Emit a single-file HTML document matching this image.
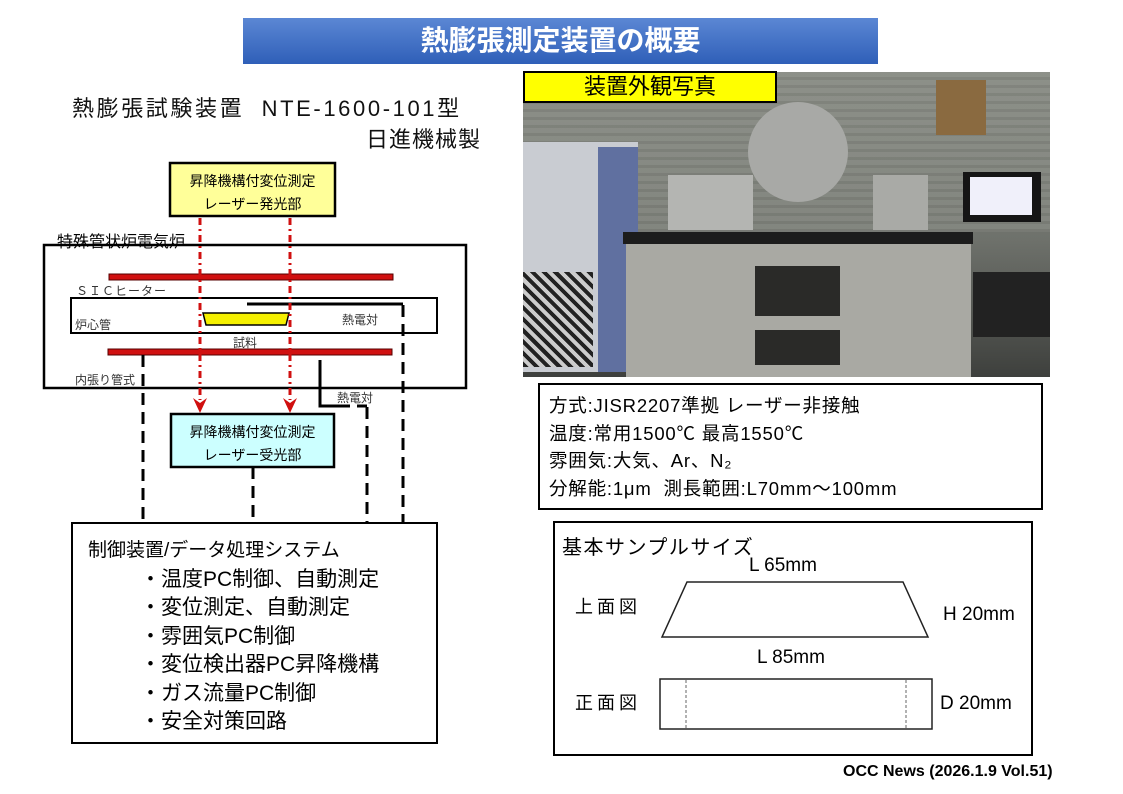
<!DOCTYPE html>
<html><head><meta charset="utf-8">
<style>
body{margin:0;width:1123px;height:794px;background:#fff;position:relative;overflow:hidden;font-family:"Liberation Sans","Noto Sans CJK JP",sans-serif;}
.a{position:absolute;white-space:nowrap;}
</style></head><body>
<div class="a" style="left:243px;top:18px;width:635px;height:46px;background:linear-gradient(#5b87d4,#2f5fb8);color:#fff;font-weight:bold;font-size:28px;line-height:46px;text-align:center;">熱膨張測定装置の概要</div>

<div class="a" style="left:72px;top:91px;font-size:22px;letter-spacing:2.6px;color:#111;">熱膨張試験装置&nbsp; NTE-1600-101型</div>
<div class="a" style="left:366px;top:122px;font-size:22px;letter-spacing:1px;color:#111;">日進機械製</div>

<svg class="a" style="left:0;top:0" width="520" height="794">
<rect x="44" y="245" width="422" height="143" fill="none" stroke="#000" stroke-width="2.5"/>
<rect x="109" y="274" width="284" height="6" fill="#d01010" stroke="#500" stroke-width="1"/>
<rect x="71" y="298" width="366" height="35" fill="none" stroke="#000" stroke-width="2"/>
<polyline points="247,304 403,304" stroke="#000" stroke-width="3" fill="none"/>
<polygon points="203,313 289,313 286,325 206,325" fill="#f5f000" stroke="#000" stroke-width="1.5"/>
<rect x="108" y="349" width="284" height="6" fill="#d01010" stroke="#500" stroke-width="1"/>
<polyline points="320,360 320,406 338,406" stroke="#000" stroke-width="3" fill="none"/>
<g stroke="#000" stroke-width="3" stroke-dasharray="12,7" fill="none">
<line x1="403" y1="305" x2="403" y2="523"/>
<line x1="143" y1="355" x2="143" y2="523"/>
<line x1="253" y1="467" x2="253" y2="523"/>
<line x1="367" y1="407" x2="367" y2="523"/>
<line x1="338" y1="406" x2="367" y2="406"/>
</g>
<g stroke="#d01010" stroke-width="3" stroke-dasharray="7,4,2,4" fill="none">
<line x1="200" y1="218" x2="200" y2="400"/>
<line x1="290" y1="218" x2="290" y2="400"/>
</g>
<path d="M193,398 L200,413 L207,398 L200,403 Z" fill="#d01010"/>
<path d="M283,398 L290,413 L297,398 L290,403 Z" fill="#d01010"/>
<rect x="170" y="163" width="165" height="53" fill="#ffff99" stroke="#000" stroke-width="2.5"/>
<rect x="171" y="414" width="163" height="53" fill="#ccffff" stroke="#000" stroke-width="2.5"/>
<rect x="72" y="523" width="365" height="220" fill="#fff" stroke="#000" stroke-width="2"/>
</svg>
<div class="a" style="left:170px;top:170px;width:165px;text-align:center;font-size:14px;line-height:23px;">昇降機構付変位測定<br>レーザー発光部</div>
<div class="a" style="left:171px;top:421px;width:163px;text-align:center;font-size:14px;line-height:23px;">昇降機構付変位測定<br>レーザー受光部</div>
<div class="a" style="left:57px;top:228px;font-size:16px;">特殊管状炉電気炉</div>
<div class="a" style="left:76px;top:282px;font-size:12px;color:#333;letter-spacing:1px;">ＳＩＣヒーター</div>
<div class="a" style="left:75px;top:316px;font-size:12px;color:#333;">炉心管</div>
<div class="a" style="left:342px;top:311px;font-size:12px;color:#333;">熱電対</div>
<div class="a" style="left:233px;top:334px;font-size:12px;color:#333;">試料</div>
<div class="a" style="left:75px;top:371px;font-size:12px;color:#333;">内張り管式</div>
<div class="a" style="left:337px;top:389px;font-size:12px;color:#333;">熱電対</div>
<div class="a" style="left:88px;top:536px;font-size:21px;line-height:28.5px;"><span style="font-size:19px">制御装置/データ処理システム</span><br>
<span style="padding-left:52px">・温度PC制御、自動測定</span><br>
<span style="padding-left:52px">・変位測定、自動測定</span><br>
<span style="padding-left:52px">・雰囲気PC制御</span><br>
<span style="padding-left:52px">・変位検出器PC昇降機構</span><br>
<span style="padding-left:52px">・ガス流量PC制御</span><br>
<span style="padding-left:52px">・安全対策回路</span></div>

<!-- photo -->
<div class="a" style="left:523px;top:72px;width:527px;height:305px;background:linear-gradient(#8a8d86,#6e716b 55%,#3e403d);overflow:hidden;">
<div class="a" style="left:0;top:0;width:527px;height:160px;background:repeating-linear-gradient(#8f928b 0 5px,#7d8079 5px 8px);opacity:.6;"></div>
<div class="a" style="left:0;top:70px;width:115px;height:230px;background:#c9ccd2;"></div>
<div class="a" style="left:75px;top:75px;width:40px;height:225px;background:#6070a0;"></div>
<div class="a" style="left:0;top:200px;width:70px;height:95px;background:repeating-linear-gradient(45deg,#222 0 4px,#ccc 4px 8px);"></div>
<div class="a" style="left:145px;top:103px;width:85px;height:55px;background:#b4b5b2;"></div>
<div class="a" style="left:350px;top:103px;width:55px;height:55px;background:#a9aaa6;"></div>
<div class="a" style="left:225px;top:30px;width:100px;height:100px;border-radius:50%;background:#a8a9a6;"></div>
<div class="a" style="left:100px;top:160px;width:350px;height:12px;background:#1c1c1c;"></div>
<div class="a" style="left:103px;top:172px;width:345px;height:133px;background:#a9a9a3;"></div>
<div class="a" style="left:232px;top:194px;width:85px;height:50px;background:#2a2a28;"></div>
<div class="a" style="left:232px;top:258px;width:85px;height:35px;background:#2a2a28;"></div>
<div class="a" style="left:440px;top:100px;width:78px;height:50px;background:#151515;"></div>
<div class="a" style="left:447px;top:105px;width:62px;height:38px;background:#f0f0fa;"></div>
<div class="a" style="left:413px;top:8px;width:50px;height:55px;background:#8a6a40;"></div>
<div class="a" style="left:450px;top:200px;width:77px;height:65px;background:#222;"></div>
</div>
<div class="a" style="left:523px;top:71px;width:250px;height:28px;background:#ffff00;border:2px solid #000;font-size:22px;line-height:28px;text-align:center;">装置外観写真</div>

<div class="a" style="left:538px;top:383px;width:501px;height:123px;border:2.5px solid #000;"></div>
<div class="a" style="left:549px;top:392px;font-size:18.5px;letter-spacing:0.8px;line-height:27.5px;">方式:JISR2207準拠 レーザー非接触<br>温度:常用1500℃ 最高1550℃<br>雰囲気:大気、Ar、N₂<br>分解能:1μm&nbsp; 測長範囲:L70mm～100mm</div>

<div class="a" style="left:553px;top:521px;width:476px;height:231px;border:2.5px solid #000;"></div>
<div class="a" style="left:562px;top:531px;font-size:20px;letter-spacing:1.5px;">基本サンプルサイズ</div>
<div class="a" style="left:749px;top:555px;font-size:19px;">L 65mm</div>
<div class="a" style="left:575px;top:593px;font-size:18px;letter-spacing:4px;">上面図</div>
<div class="a" style="left:943px;top:604px;font-size:19px;">H 20mm</div>
<div class="a" style="left:757px;top:647px;font-size:19px;">L 85mm</div>
<div class="a" style="left:575px;top:689px;font-size:18px;letter-spacing:4px;">正面図</div>
<div class="a" style="left:940px;top:693px;font-size:19px;">D 20mm</div>
<svg class="a" style="left:0;top:0" width="1123" height="794">
<polygon points="687,582 903,582 928,637 662,637" fill="none" stroke="#222" stroke-width="1.5"/>
<rect x="660" y="679" width="272" height="50" fill="none" stroke="#222" stroke-width="1.5"/>
<line x1="686" y1="680" x2="686" y2="728" stroke="#666" stroke-dasharray="3,2"/>
<line x1="906" y1="680" x2="906" y2="728" stroke="#666" stroke-dasharray="3,2"/>
</svg>
<div class="a" style="left:843px;top:763px;font-size:16px;font-weight:bold;">OCC News (2026.1.9 Vol.51)</div>
</body></html>
